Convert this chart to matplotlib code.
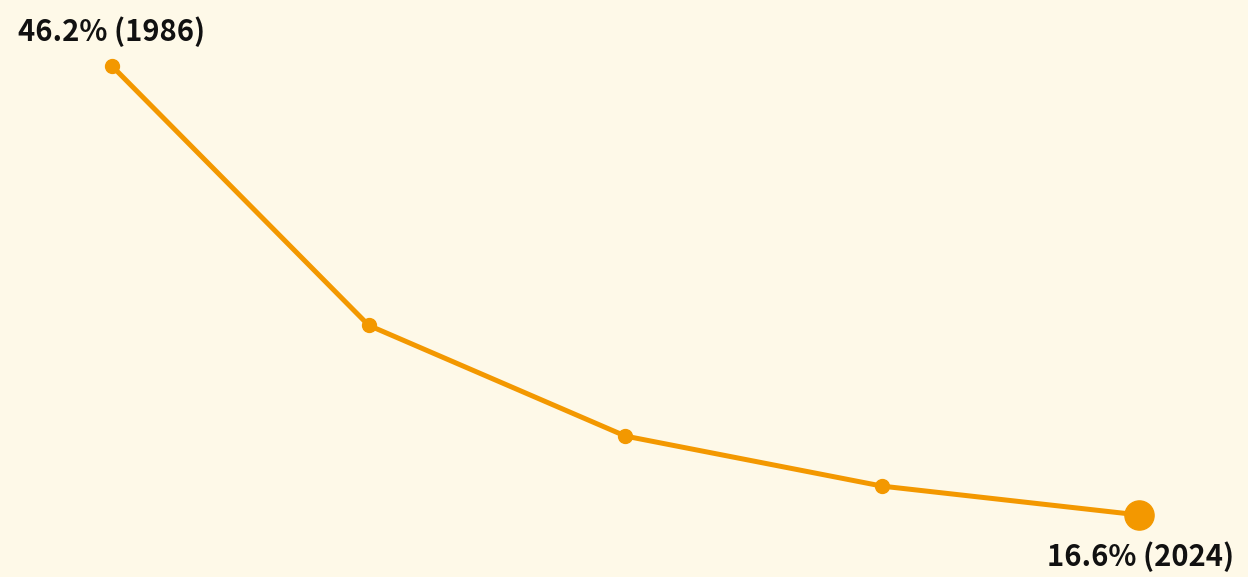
import matplotlib.pyplot as plt

plt.rcParams['font.family'] = ['Noto Sans CJK JP', 'DejaVu Sans']

# share values (%), first to last
values = [46.2, 29.1, 21.8, 18.5, 16.6]
first_label = "46.2% (1986)"
last_label = "16.6% (2024)"

bg = "#FEF9E8"
orange = "#F39800"

fig = plt.figure(figsize=(12.48, 5.77), dpi=100, facecolor=bg)
ax = fig.add_axes([0, 0, 1, 1])
ax.set_facecolor(bg)

x = list(range(len(values)))
ax.plot(x, values, color=orange, lw=3.6, marker="o", markersize=10,
        solid_capstyle="round", zorder=2)
ax.plot(x[-1], values[-1], "o", color=orange, markersize=21, zorder=3)

ax.annotate(first_label, (x[0], values[0]), xytext=(-68, 25),
            textcoords="offset points", ha="left", va="center",
            fontsize=21, fontweight="bold", color="#111111")
ax.annotate(last_label, (x[-1], values[-1]), xytext=(-66, -30),
            textcoords="offset points", ha="left", va="center",
            fontsize=21, fontweight="bold", color="#111111")

ax.set_xlim(-0.436, 4.4245)
ax.set_ylim(12.51, 50.55)
ax.axis("off")

fig.savefig("out.png", dpi=100, facecolor=bg)
